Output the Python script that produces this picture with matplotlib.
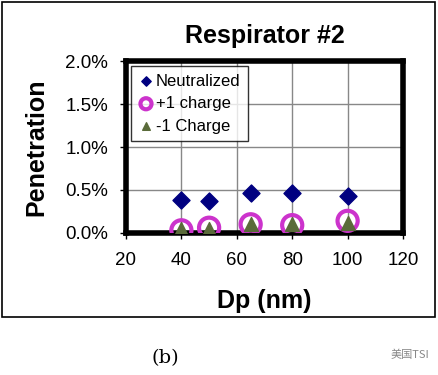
import matplotlib
matplotlib.use("Agg")
import matplotlib.pyplot as plt
import matplotlib.patches as patches
from matplotlib.ticker import FuncFormatter

plt.rcParams['font.family'] = ['Liberation Sans', 'DejaVu Sans']

# data (penetration in %)
dp = [40, 50, 65, 80, 100]
neutralized = [0.38, 0.37, 0.46, 0.47, 0.43]
plus_one = [0.03, 0.06, 0.10, 0.09, 0.14]
minus_one = [0.04, 0.05, 0.10, 0.10, 0.12]

fig = plt.figure(figsize=(4.39, 3.75), dpi=100)

# outer frame around the chart
fig.add_artist(patches.Rectangle((2 / 439, 1 - 317 / 375), 433 / 439, 315 / 375,
                                 transform=fig.transFigure, fill=False,
                                 edgecolor='black', linewidth=1.2))

ax = fig.add_axes([0.287, 0.379, 0.631, 0.458])
ax.scatter(dp, neutralized, marker='D', s=75, color='#000080', zorder=3,
           label='Neutralized')
ax.scatter(dp, plus_one, marker='o', s=210, facecolor='none',
           edgecolor='#cc33cc', linewidths=3, zorder=3, label='+1 charge')
ax.scatter(dp, minus_one, marker='^', s=100, color='#5a6b3a', zorder=4,
           label='-1 Charge')

ax.set_xlim(20, 120)
ax.set_ylim(0, 2.0)
ax.set_xticks([20, 40, 60, 80, 100, 120])
ax.set_yticks([0, 0.5, 1.0, 1.5, 2.0])
ax.yaxis.set_major_formatter(FuncFormatter(lambda v, p: f"{v:.1f}%"))
ax.grid(True, color='#888888', linewidth=1.0)
ax.set_axisbelow(True)
for s in ax.spines.values():
    s.set_linewidth(4)
ax.tick_params(direction='out', length=4, width=1, labelsize=13.5)
ax.tick_params(axis='y', pad=9)
ax.tick_params(axis='x', pad=10)

ax.set_title('Respirator #2', fontsize=18, fontweight='bold', pad=13)
ax.set_xlabel('Dp (nm)', fontsize=18, fontweight='bold', labelpad=14)
ax.set_ylabel('Penetration', fontsize=18, fontweight='bold', labelpad=12)

leg = ax.legend(loc='upper left', fontsize=12, frameon=True, fancybox=False,
                edgecolor='black', handletextpad=0.15, handlelength=0.9,
                borderaxespad=0.3, borderpad=0.45, labelspacing=0.45,
                markerscale=0.55)
leg.get_frame().set_linewidth(1.0)

fig.text(165 / 439, 1 - 358 / 375, '(b)', fontsize=14, family='DejaVu Serif',
         ha='center', va='center')
fig.text(410 / 439, 1 - 355 / 375, '美国TSI', fontsize=8, color='#888888',
         family=['Noto Sans CJK SC', 'DejaVu Sans'], ha='center', va='center')

fig.savefig('out.png', dpi=100)
